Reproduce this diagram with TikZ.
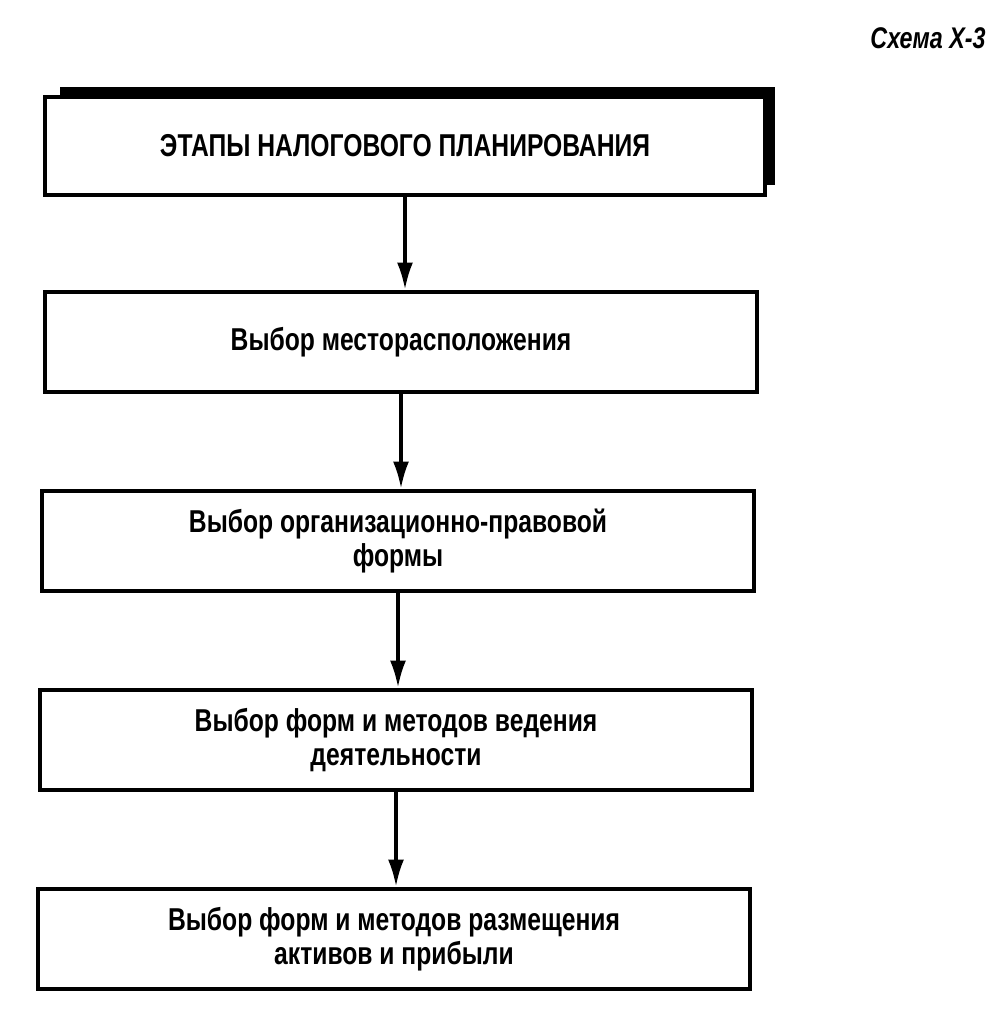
\documentclass[tikz,border=0pt]{standalone}
\usepackage{fontspec}
\setmainfont{Liberation Sans}[FakeStretch=0.78]
\usetikzlibrary{positioning,calc,arrows.meta}
\tikzstyle{stage} = [draw,fill=white,line width=2.2pt,minimum width=14.25cm,minimum height=2cm,align=center,inner sep=0pt,font=\fontsize{18}{19}\selectfont\bfseries]
\tikzstyle{step arrow} = [line width=2.2pt,-{Latex[length=0.55cm,width=0.32cm]}]

\begin{document}
\begin{tikzpicture}[x=0.02cm,y=-0.02cm]
    \useasboundingbox (0,0) rectangle (1000,1015);
    \node [font=\fontsize{17}{17}\selectfont\bfseries\itshape] (caption) at (928,38) {Схема Х-3};

    % shadow behind the heading box
    \fill (60,87) rectangle (775,185);
    \node [stage,minimum width=14.4cm,minimum height=1.96cm] (stages) at (405,146) {ЭТАПЫ НАЛОГОВОГО ПЛАНИРОВАНИЯ};

    \node [stage] (place) at (401,342) {Выбор месторасположения};
    \node [stage] (legal) at (398,541) {Выбор организационно-правовой\\формы};
    \node [stage] (activity) at (396,740) {Выбор форм и методов ведения\\деятельности};
    \node [stage] (assets) at (394,939) {Выбор форм и методов размещения\\активов и прибыли};

    \draw [step arrow] (stages.south) -- (stages.south |- place.north);
    \draw [step arrow] (place.south) -- (place.south |- legal.north);
    \draw [step arrow] (legal.south) -- (legal.south |- activity.north);
    \draw [step arrow] (activity.south) -- (activity.south |- assets.north);
  \end{tikzpicture}
\end{document}
